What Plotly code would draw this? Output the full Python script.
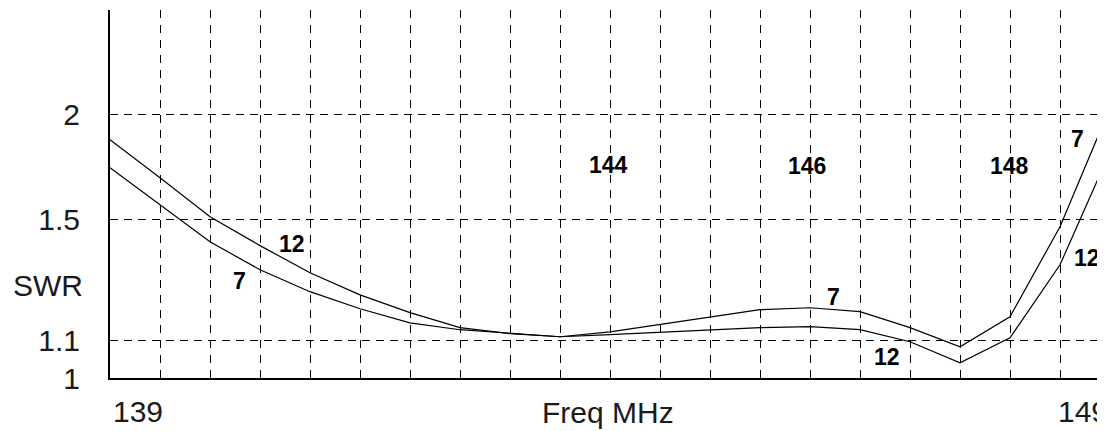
import plotly.graph_objects as go

# ---- data ----
freq = [139.0, 139.5, 140.0, 140.5, 141.0, 141.5, 142.0, 142.5, 143.0, 143.5,
        144.0, 144.5, 145.0, 145.5, 146.0, 146.5, 147.0, 147.5, 148.0, 148.5, 149.0]
swr_7 = [1.724, 1.561, 1.416, 1.317, 1.245, 1.192, 1.150, 1.130, 1.119, 1.110,
         1.124, 1.145, 1.168, 1.189, 1.195, 1.183, 1.136, 1.082, 1.168, 1.473, 2.038]
swr_12 = [1.862, 1.678, 1.512, 1.402, 1.307, 1.235, 1.180, 1.136, 1.119, 1.110,
          1.116, 1.122, 1.130, 1.136, 1.139, 1.130, 1.096, 1.039, 1.107, 1.334, 1.801]
swr_ticks = [1, 1.1, 1.5, 2]
swr_tick_text = ["1", "1.1", "1.5", "2"]
band_labels = ["144", "146", "148"]
x_end_labels = ["139", "149"]


def rho(s):
    return (s - 1.0) / (s + 1.0)


# page body has an 8px default margin; compensate so the plot lands where the
# reference has it (plot area: x 110..1105, y 10..378 in window pixels)
OFF = 8
WIN_W, WIN_H = 1105, 431
W, H = WIN_W - OFF, WIN_H - OFF
PL, PT, PB = 110, 10, 378          # plot edges in window pixels
L, T = PL - OFF, PT - OFF
B = H - (PB - OFF)
PW = W - L
PH = H - T - B

fig = go.Figure()
for ys in (swr_7, swr_12):
    fig.add_trace(go.Scatter(x=freq, y=[rho(v) for v in ys], mode="lines",
                             line=dict(color="black", width=1.2),
                             showlegend=False, hoverinfo="skip", cliponaxis=True))


def px2paper(px, py):
    return (px - PL) / PW, (PB - py) / PH


ann = []
bold = dict(family="Liberation Sans, Arial", size=23, color="black")
for txt, (px, py) in [("12", (292, 244)), ("7", (239, 281)),
                      (band_labels[0], (608, 165)), (band_labels[1], (807, 166)),
                      (band_labels[2], (1009, 166)),
                      ("7", (833, 297)), ("12", (887, 357)),
                      ("7", (1077, 139)), ("12", (1087, 258))]:
    x, y = px2paper(px, py)
    ann.append(dict(text="<b>%s</b>" % txt, x=x, y=y, xref="paper", yref="paper",
                    showarrow=False, font=bold, xanchor="center", yanchor="middle"))

reg = dict(family="Liberation Sans, Arial", size=30, color="#1a1a1a")
x, y = px2paper(48, 285)
ann.append(dict(text="SWR", x=x, y=y, xref="paper", yref="paper", showarrow=False,
                font=reg, xanchor="center", yanchor="middle"))
x, y = px2paper(608, 412)
ann.append(dict(text="Freq MHz", x=x, y=y, xref="paper", yref="paper", showarrow=False,
                font=reg, xanchor="center", yanchor="middle"))
x, y = px2paper(111, 411)
ann.append(dict(text=x_end_labels[0], x=x, y=y, xref="paper", yref="paper", showarrow=False,
                font=reg, xanchor="left", yanchor="middle"))
x, y = px2paper(1110, 411)
ann.append(dict(text=x_end_labels[1], x=x, y=y, xref="paper", yref="paper", showarrow=False,
                font=reg, xanchor="right", yanchor="middle"))

fig.update_layout(
    width=W, height=H,
    margin=dict(l=L, r=0, t=T, b=B, pad=0),
    paper_bgcolor="white", plot_bgcolor="white",
    annotations=ann,
    xaxis=dict(range=[139, 139 + PW / 100.0], tick0=139, dtick=0.5,
               showgrid=True, gridcolor="black", gridwidth=1, griddash="8px,7px",
               showticklabels=False, ticks="", zeroline=False,
               showline=True, linecolor="black", linewidth=2, fixedrange=True),
    yaxis=dict(range=[0, PH / 791.0], tickmode="array",
               tickvals=[rho(v) for v in swr_ticks], ticktext=swr_tick_text,
               showgrid=True, gridcolor="black", gridwidth=1, griddash="8px,6px",
               ticks="", ticklabelstandoff=22, tickfont=reg, zeroline=False,
               showline=True, linecolor="black", linewidth=2, fixedrange=True),
)

fig.write_html("out.html")
